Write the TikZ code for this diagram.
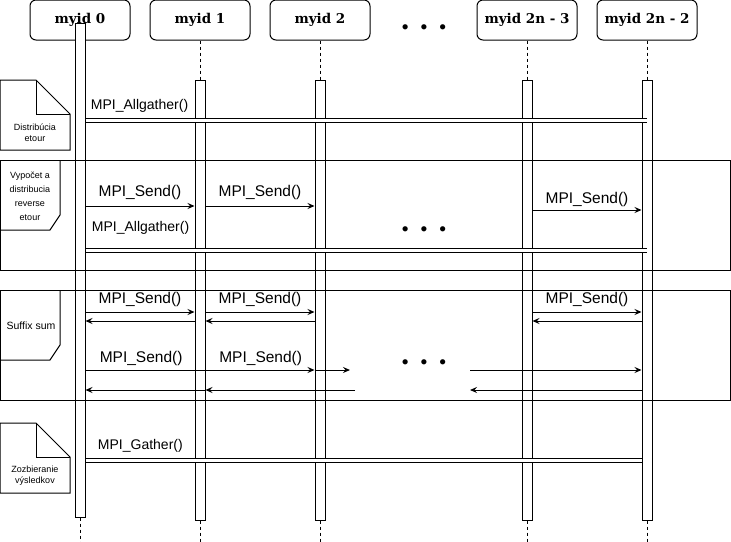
\documentclass[tikz,border=0pt]{standalone}
\usepackage{fontspec}
\setmainfont{Liberation Sans}
\newfontfamily\headfont{DejaVu Serif}
\usetikzlibrary{positioning, arrows.meta}

\begin{document}
\begin{tikzpicture}[x=1pt, y=-1pt, line width=1pt,
    head/.style={draw, rounded corners=6pt, minimum width=100pt, minimum height=40pt,
      inner sep=0pt, font=\headfont\bfseries\fontsize{13.5}{14}\selectfont},
    bar/.style={draw, fill=white, minimum width=10pt, inner sep=0pt},
    life/.style={dash pattern=on 3pt off 3pt, line width=0.8pt},
    msg/.style={-{Stealth[length=7pt, width=6pt, inset=2.5pt]}},
    sync/.style={double, double distance=3.2pt, line width=0.9pt},
    call/.style={font=\fontsize{14}{14}\selectfont, inner sep=0pt},
    send/.style={font=\fontsize{15.5}{16}\selectfont, inner sep=0pt},
    note/.style={font=\fontsize{9}{11}\selectfont, align=center, inner sep=0pt},
    dots/.style={font=\headfont\bfseries\fontsize{28}{28}\selectfont, inner sep=0pt}]

  \useasboundingbox (0,0) rectangle (731,541);

  % processes
  \node[head] (id0) at (80,20) {myid 0};
  \node[head] (id1) at (200,20) {myid 1};
  \node[head] (id2) at (320,20) {myid 2};
  \node[head] (id3) at (527,20) {myid 2n - 3};
  \node[head] (id4) at (647,20) {myid 2n - 2};
  \node[dots] (hdots) at (424,27) {.\kern9pt.\kern9pt.};

  \node[bar, minimum height=494pt] (bar0) at (80,270) {};
  \node[bar, minimum height=440pt] (bar1) at (200,300) {};
  \node[bar, minimum height=440pt] (bar2) at (320,300) {};
  \node[bar, minimum height=440pt] (bar3) at (527,300) {};
  \node[bar, minimum height=440pt] (bar4) at (647,300) {};

  \draw[life] (id1) -- (bar1);
  \draw[life] (id2) -- (bar2);
  \draw[life] (id3) -- (bar3);
  \draw[life] (id4) -- (bar4);
  \draw[life] (bar0.south) -- ++(0,24);
  \draw[life] (bar1.south) -- ++(0,21);
  \draw[life] (bar2.south) -- ++(0,21);
  \draw[life] (bar3.south) -- ++(0,21);
  \draw[life] (bar4.south) -- ++(0,21);

  % notes and frames
  \draw (0,80) -- (36,80) -- (70,114) -- (70,150) -- (0,150) -- cycle;
  \draw[line width=0.7pt] (36,80) -- (36,114) -- (70,114);
  \node[note] (nDistr) at (35,133) {Distribúcia\\etour};

  \draw (0,160) rectangle (730,270);
  \draw (0,230) -- (50,230) -- (60,215) -- (60,160);
  \node[note, font=\fontsize{9}{14}\selectfont] (fVyp) at (30,196) {Vypočet a\\distribucia\\reverse\\etour};
  \node[dots] (fdots1) at (424,229) {.\kern9pt.\kern9pt.};

  \draw (0,290) rectangle (730,400);
  \draw (0,360) -- (50,360) -- (60,345) -- (60,290);
  \node[note, font=\fontsize{10.5}{12}\selectfont] (fSuf) at (31,326) {Suffix sum};
  \node[dots] (fdots2) at (424,362) {.\kern9pt.\kern9pt.};

  \draw (0,423) -- (36,423) -- (70,457) -- (70,493) -- (0,493) -- cycle;
  \draw[line width=0.7pt] (36,423) -- (36,457) -- (70,457);
  \node[note] (nZoz) at (35,476) {Zozbieranie\\výsledkov};

  % distribucia etour
  \draw[sync] (bar0.east |- 0,120.5) -- node[call, pos=0, above right=7.5pt and 5pt] {MPI\_Allgather()} (bar4 |- 0,120.5);

  % reverse etour
  \draw[msg] (bar0.east |- 0,206) -- node[send, midway, above=5.5pt] {MPI\_Send()} (bar1.west |- 0,206);
  \draw[msg] (bar1.east |- 0,206) -- node[send, midway, above=5.5pt] {MPI\_Send()} (bar2.west |- 0,206);
  \draw[msg] (bar3.east |- 0,210) -- node[send, midway, above=3pt] {MPI\_Send()} (bar4.west |- 0,210);
  \draw[sync] (bar0.east |- 0,250.5) -- node[call, pos=0, above right=15.5pt and 6pt] {MPI\_Allgather()} (bar4 |- 0,250.5);

  % suffix sum
  \draw[msg] (bar0.east |- 0,312) -- node[send, midway, above=5pt] {MPI\_Send()} (bar1.west |- 0,312);
  \draw[msg] (bar1.west |- 0,321) -- (bar0.east |- 0,321);
  \draw[msg] (bar1.east |- 0,312) -- node[send, midway, above=5pt] {MPI\_Send()} (bar2.west |- 0,312);
  \draw[msg] (bar2.west |- 0,321) -- (bar1.east |- 0,321);
  \draw[msg] (bar3.east |- 0,312) -- node[send, midway, above=5pt] {MPI\_Send()} (bar4.west |- 0,312);
  \draw[msg] (bar4.west |- 0,321) -- (bar3.east |- 0,321);

  \coordinate (gapA) at (350,370);
  \coordinate (gapB) at (355,390);
  \coordinate (gapC) at (470,370);
  \coordinate (gapD) at (470,390);
  \draw[msg] (bar0.east |- gapA) -- node[send, pos=.243, above=4pt] {MPI\_Send()}
    node[send, pos=.765, above=4pt] {MPI\_Send()} (bar2.west |- gapA);
  \draw[msg] (bar2.west |- gapA) -- (gapA);
  \draw[msg] (gapB) -- (bar1.east |- gapB);
  \draw[msg] (bar1.east |- gapB) -- (bar0.east |- gapB);
  \draw[msg] (gapC) -- (bar4.west |- gapC);
  \draw[msg] (bar4.west |- gapD) -- (gapD);

  % results
  \draw[sync] (bar0.east |- 0,460.5) -- node[call, pos=0, above right=7.5pt and 12pt] {MPI\_Gather()} (bar4.west |- 0,460.5);

\end{tikzpicture}
\end{document}
